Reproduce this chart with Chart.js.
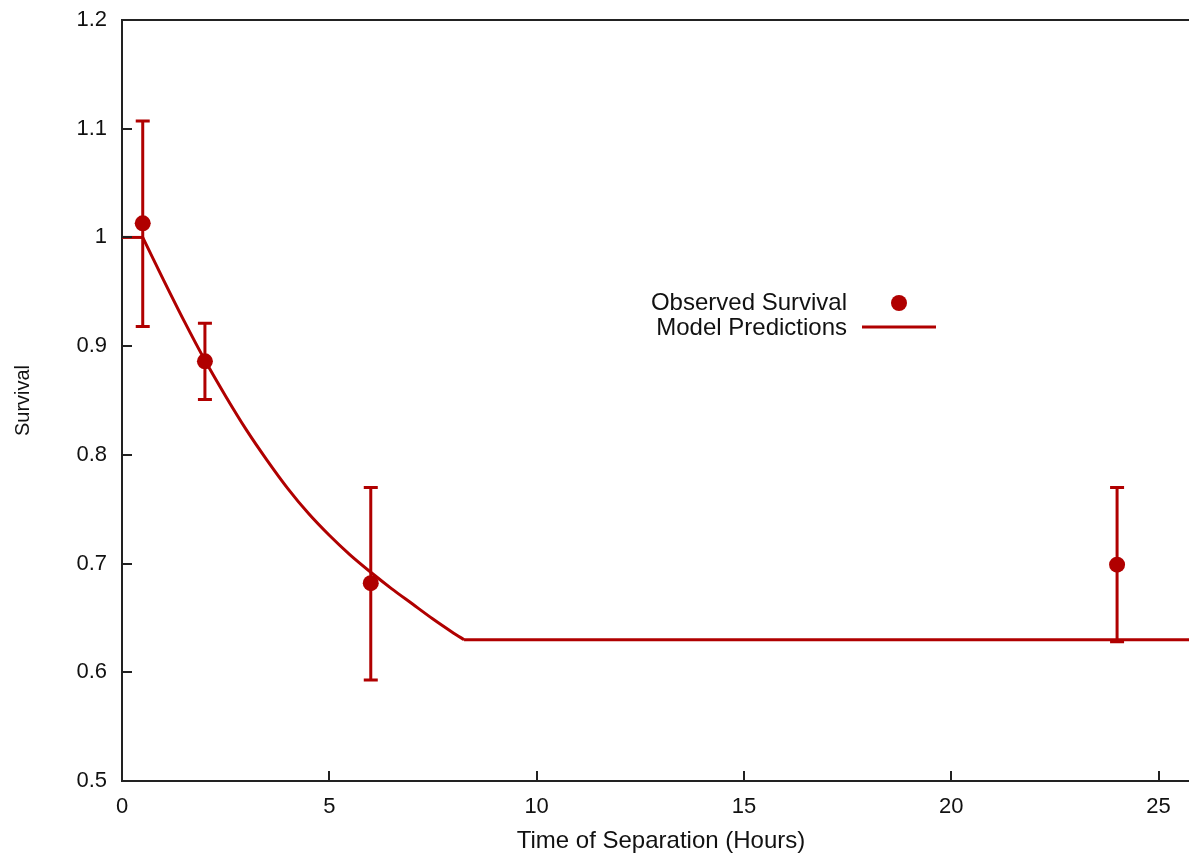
<!DOCTYPE html>
<html>
<head>
<meta charset="utf-8">
<title>Survival vs Time of Separation</title>
<script src="https://cdn.jsdelivr.net/npm/chart.js@4.4.1/dist/chart.umd.min.js"></script>
<style>
  html, body { margin: 0; padding: 0; background: #fff; overflow: hidden; }
  #wrap { width: 1210px; height: 856px; }
</style>
</head>
<body>
<div id="wrap"><canvas id="survivalChart"></canvas></div>
<script>
// Observed survival (points with error bars)
const obsHours = [0.5, 2, 6, 24];
const obsSurvival = [1.013, 0.886, 0.682, 0.699];
const obsUpper = [1.107, 0.921, 0.770, 0.770];
const obsLower = [0.918, 0.851, 0.593, 0.628];

// Model predictions
const modelHours = [0, 0.5, 1, 1.5, 2, 2.5, 3, 3.5, 4, 4.5, 5, 5.5, 6, 6.5, 7, 7.5, 8, 8.25, 26];
const modelSurvival = [1.0, 1.0, 0.961, 0.923, 0.887, 0.854, 0.823, 0.795, 0.769, 0.746, 0.726, 0.708, 0.692, 0.677, 0.663, 0.649, 0.636, 0.630, 0.630];

// Tick labels
const xTickValues = [0, 5, 10, 15, 20, 25];
const yTickValues = [0.5, 0.6, 0.7, 0.8, 0.9, 1.0, 1.1, 1.2];

const RED = '#b00000';
const AXIS = '#222';
const FONT = "'Liberation Sans', Arial, Helvetica, sans-serif";

function modelPoints(from, to) {
    const pts = [];
    for (let i = from; i <= to; i++) pts.push({ x: modelHours[i], y: modelSurvival[i] });
    return pts;
}

// error bars, top frame line, inward tick marks, legend
const gnuplotLook = {
    id: 'gnuplotLook',
    beforeDatasetsDraw(chart) {
        const { ctx, scales } = chart;
        const x = scales.x, y = scales.y;
        ctx.save();
        ctx.strokeStyle = RED;
        ctx.lineWidth = 3;
        obsHours.forEach((h, i) => {
            const px = x.getPixelForValue(h);
            const top = y.getPixelForValue(obsUpper[i]);
            const bot = y.getPixelForValue(obsLower[i]);
            ctx.beginPath();
            ctx.moveTo(px, top);
            ctx.lineTo(px, bot);
            ctx.moveTo(px - 7, top);
            ctx.lineTo(px + 7, top);
            ctx.moveTo(px - 7, bot);
            ctx.lineTo(px + 7, bot);
            ctx.stroke();
        });
        ctx.restore();
    },
    afterDraw(chart) {
        const { ctx, chartArea, scales } = chart;
        const x = scales.x, y = scales.y;
        ctx.save();
        ctx.strokeStyle = AXIS;
        ctx.lineWidth = 2;
        ctx.beginPath();
        ctx.moveTo(chartArea.left, chartArea.top);
        ctx.lineTo(chartArea.right, chartArea.top);
        // tick marks pointing into the plot
        yTickValues.forEach(v => {
            const py = Math.round(y.getPixelForValue(v));
            ctx.moveTo(chartArea.left, py);
            ctx.lineTo(chartArea.left + 10, py);
        });
        xTickValues.forEach(v => {
            const px = Math.round(x.getPixelForValue(v));
            ctx.moveTo(px, chartArea.bottom);
            ctx.lineTo(px, chartArea.bottom - 10);
        });
        ctx.stroke();

        // legend
        ctx.font = '24px ' + FONT;
        ctx.fillStyle = '#111';
        ctx.textAlign = 'right';
        ctx.textBaseline = 'middle';
        ctx.fillText('Observed Survival', 847, 303);
        ctx.fillText('Model Predictions', 847, 328);
        ctx.fillStyle = RED;
        ctx.beginPath();
        ctx.arc(899, 303, 8, 0, Math.PI * 2);
        ctx.fill();
        ctx.strokeStyle = RED;
        ctx.lineWidth = 3;
        ctx.beginPath();
        ctx.moveTo(862, 327);
        ctx.lineTo(936, 327);
        ctx.stroke();
        ctx.restore();
    }
};

const lineStyle = { showLine: true, borderColor: RED, borderWidth: 3, pointRadius: 0, order: 2 };

new Chart(document.getElementById('survivalChart'), {
    type: 'scatter',
    data: {
        datasets: [
            // flat start, smooth decay, flat plateau
            { ...lineStyle, label: 'Model Predictions', data: modelPoints(0, 1), tension: 0 },
            { ...lineStyle, label: 'Model Predictions', data: modelPoints(1, 17), tension: 0.3 },
            { ...lineStyle, label: 'Model Predictions', data: modelPoints(17, 18), tension: 0 },
            {
                label: 'Observed Survival',
                data: obsHours.map((h, i) => ({ x: h, y: obsSurvival[i] })),
                backgroundColor: RED,
                borderColor: RED,
                pointRadius: 8,
                pointBorderWidth: 0,
                order: 1
            }
        ]
    },
    options: {
        responsive: true,
        maintainAspectRatio: false,
        animation: false,
        layout: { padding: { top: 20, right: 10, left: 0, bottom: 0 } },
        plugins: {
            legend: { display: false },
            tooltip: { enabled: false }
        },
        scales: {
            x: {
                type: 'linear',
                min: 0,
                max: 26,
                afterFit(scale) {
                    scale.height = 75;
                    scale.paddingLeft = 0;
                    scale.paddingRight = 0;
                },
                afterBuildTicks(scale) { scale.ticks = xTickValues.map(v => ({ value: v })); },
                grid: { display: false, drawTicks: false },
                border: { display: true, color: AXIS, width: 2 },
                ticks: { color: '#111', padding: 13, font: { family: FONT, size: 22 } },
                title: {
                    display: true,
                    text: 'Time of Separation (Hours)',
                    color: '#111',
                    padding: { top: 0, bottom: 0 },
                    font: { family: FONT, size: 24 }
                }
            },
            y: {
                type: 'linear',
                min: 0.5,
                max: 1.2,
                afterFit(scale) {
                    scale.width = 122;
                    scale.paddingTop = 0;
                    scale.paddingBottom = 0;
                },
                afterBuildTicks(scale) { scale.ticks = yTickValues.map(v => ({ value: v })); },
                grid: { display: false, drawTicks: false },
                border: { display: true, color: AXIS, width: 2 },
                ticks: {
                    color: '#111',
                    padding: 15,
                    font: { family: FONT, size: 22 },
                    callback: v => String(Math.round(v * 10) / 10)
                },
                title: {
                    display: true,
                    text: 'Survival',
                    color: '#111',
                    padding: { top: 11, bottom: 0 },
                    font: { family: FONT, size: 20 }
                }
            }
        }
    },
    plugins: [gnuplotLook]
});
</script>
</body>
</html>
